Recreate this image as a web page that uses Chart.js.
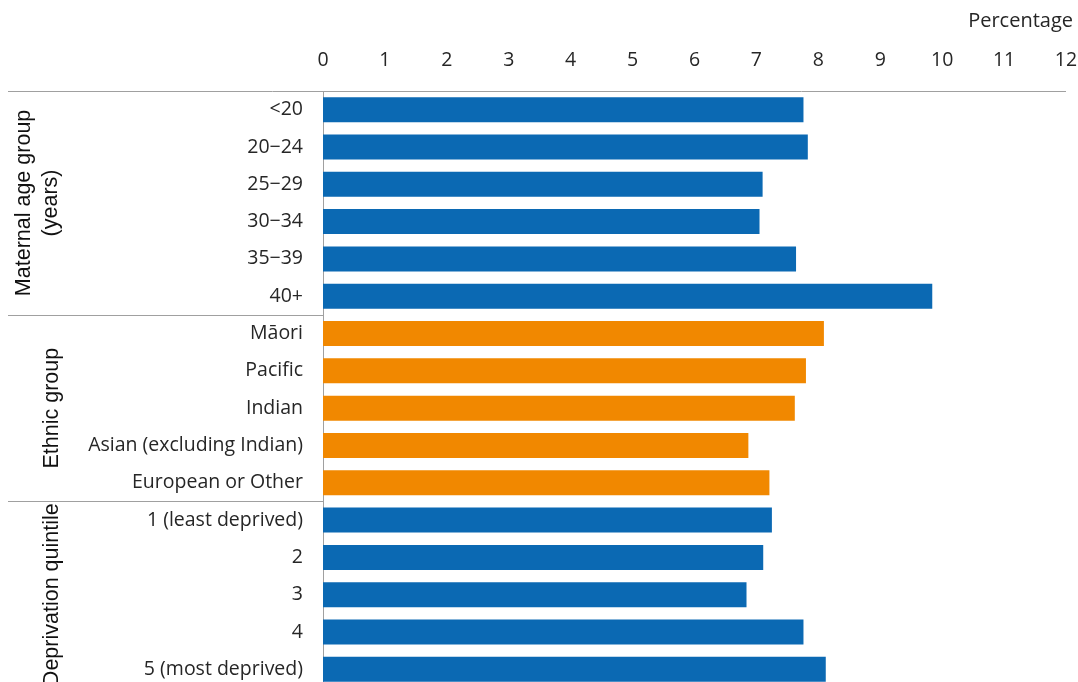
<!DOCTYPE html>
<html>
<head>
<meta charset="utf-8">
<script src="https://cdn.jsdelivr.net/npm/chart.js@4.4.1/dist/chart.umd.min.js"></script>
<style>
    html, body { margin: 0; padding: 0; background: #fff; overflow: hidden; }
    canvas { display: block; }
</style>
</head>
<body>
<canvas id="myChart" width="1078" height="688"></canvas>
<script>
// Chart data
var ageLabels = ["<20", "20\u221224", "25\u221229", "30\u221234", "35\u221239", "40+"];
var ageValues = [7.76, 7.83, 7.10, 7.05, 7.64, 9.84];

var ethnicLabels = ["M\u0101ori", "Pacific", "Indian", "Asian (excluding Indian)", "European or Other"];
var ethnicValues = [8.09, 7.80, 7.62, 6.87, 7.21];

var deprivationLabels = ["1 (least deprived)", "2", "3", "4", "5 (most deprived)"];
var deprivationValues = [7.25, 7.11, 6.84, 7.76, 8.12];

var xTicks = [0, 1, 2, 3, 4, 5, 6, 7, 8, 9, 10, 11, 12];

var groupNames = [["Maternal age group", "(years)"], ["Ethnic group"], ["Deprivation quintile"]];

var blue = "#0b69b3";
var orange = "#f18800";
var lineGrey = "#a0a0a0";
var textColour = "#262626";
var tickFont = "'Open Sans', sans-serif";

// Combine groups into one list
var labels = ageLabels.concat(ethnicLabels, deprivationLabels);
var values = ageValues.concat(ethnicValues, deprivationValues);
var colours = [];
ageLabels.forEach(() => colours.push(blue));
ethnicLabels.forEach(() => colours.push(orange));
deprivationLabels.forEach(() => colours.push(blue));

var groupSizes = [ageLabels.length, ethnicLabels.length, deprivationLabels.length];

// Stops the scales from adding label padding round the plot
function noPadding(scale) {
    scale.paddingLeft = 0;
    scale.paddingRight = 0;
    scale.paddingTop = 0;
    scale.paddingBottom = 0;
}

// Draws the rule lines, group labels and axis title
var decorations = {
    id: "decorations",
    afterDraw(chart) {
        const ctx = chart.ctx;
        const area = chart.chartArea;
        const y = chart.scales.y;
        const band = y.getPixelForValue(1) - y.getPixelForValue(0);
        ctx.save();
        ctx.strokeStyle = lineGrey;
        ctx.lineWidth = 1;

        // top rule
        ctx.beginPath();
        ctx.moveTo(8, Math.round(area.top) + 0.5);
        ctx.lineTo(area.right, Math.round(area.top) + 0.5);
        ctx.stroke();

        var start = 0;
        groupSizes.forEach((size, i) => {
            const top = y.getPixelForValue(start) - band / 2;
            const bottom = y.getPixelForValue(start + size - 1) + band / 2;
            if (i > 0) {
                ctx.beginPath();
                ctx.moveTo(8, Math.round(top) + 0.5);
                ctx.lineTo(area.left, Math.round(top) + 0.5);
                ctx.stroke();
            }
            const mid = (top + Math.min(bottom, 688)) / 2;
            const lines = groupNames[i];
            ctx.save();
            ctx.fillStyle = "#111";
            ctx.font = "21.5px 'Liberation Sans', Arial, sans-serif";
            ctx.textAlign = "center";
            ctx.textBaseline = "middle";
            ctx.translate(lines.length > 1 ? 24 : 52, mid);
            ctx.rotate(-Math.PI / 2);
            lines.forEach((t, k) => {
                ctx.fillText(t, 0, k * 27);
            });
            ctx.restore();
            start += size;
        });

        ctx.fillStyle = textColour;
        ctx.font = "20px " + tickFont;
        ctx.textAlign = "right";
        ctx.textBaseline = "middle";
        ctx.fillText("Percentage", 1073, 21);
        ctx.restore();
    }
};

var chartData = {
    labels: labels,
    datasets: [{
        data: values,
        backgroundColor: colours,
        borderWidth: 0,
        categoryPercentage: 1,
        barPercentage: 0.67
    }]
};

var config = {
    type: "bar",
    data: chartData,
    options: {
        indexAxis: "y",
        responsive: false,
        animation: false,
        devicePixelRatio: 1,
        layout: { autoPadding: false, padding: { left: 0, right: 12, top: 0, bottom: 0 } },
        plugins: {
            legend: { display: false },
            tooltip: { enabled: false }
        },
        scales: {
            x: {
                position: "top",
                min: 0,
                max: 12,
                afterBuildTicks(scale) {
                    scale.ticks = xTicks.map(v => ({ value: v }));
                },
                afterFit(scale) {
                    scale.height = 91;
                    noPadding(scale);
                },
                grid: { display: false, drawTicks: false },
                border: { display: false },
                ticks: {
                    padding: 19,
                    color: textColour,
                    maxRotation: 0,
                    font: { family: tickFont, size: 19.5 }
                }
            },
            y: {
                afterFit(scale) {
                    scale.width = 323;
                    noPadding(scale);
                },
                grid: { display: false, drawTicks: false },
                border: { display: true, color: lineGrey, width: 1 },
                ticks: {
                    padding: 20,
                    color: textColour,
                    font: { family: tickFont, size: 19.5 }
                }
            }
        }
    },
    plugins: [decorations]
};

var myChart = new Chart(document.getElementById("myChart"), config);
</script>
</body>
</html>
